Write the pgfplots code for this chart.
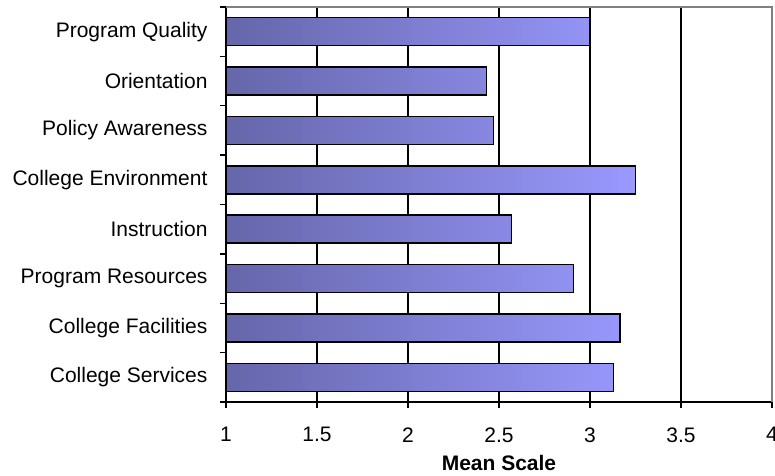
\documentclass[border=0pt]{standalone}
\usepackage{fontspec}
\setmainfont{Liberation Sans}
\usepackage{pgfplots}
\pgfplotsset{compat=1.18}
\definecolor{barL}{RGB}{102,102,170}
\definecolor{barR}{RGB}{153,153,255}
\definecolor{frameGray}{RGB}{128,128,128}
\begin{document}
\begin{tikzpicture}
\begin{axis}[
  scale only axis, width=546bp, height=395bp,
  xmin=1, xmax=4, ymin=-0.5, ymax=7.5,
  x coord trafo/.code={\pgfmathparse{#1-1}},
  x coord inv trafo/.code={\pgfmathparse{#1+1}},
  axis lines*=left,
  axis line style={black, line width=1.3bp},
  xtick={1,1.5,2,2.5,3,3.5,4},
  xticklabels={1,1.5,2,2.5,3,3.5,4},
  xticklabel style={yshift=-16bp},
  ytick={-0.5,0.5,1.5,2.5,3.5,4.5,5.5,6.5,7.5},
  yticklabels={},
  extra y ticks={0,1,2,3,4,5,6,7},
  extra y tick labels={College Services,College Facilities,Program Resources,Instruction,College Environment,Policy Awareness,Orientation,Program Quality},
  extra y tick style={major tick length=0pt, yticklabel style={xshift=-15bp}},
  tick align=outside,
  major tick length=6bp,
  every tick/.style={black, line width=1.3bp},
  xmajorgrids,
  grid style={black, line width=1.3bp},
  ticklabel style={font=\fontsize{21bp}{25bp}\selectfont},
  /pgf/number format/assume math mode=true,
  xlabel={Mean Scale},
  xlabel style={font=\fontsize{21bp}{25bp}\selectfont\bfseries, yshift=-6bp},
  clip=false,
]
\addplot[xbar, bar width=28bp, draw=black, line width=1.5bp,
  left color=barL, right color=barR]
  coordinates {
    (3.13,0) (3.165,1) (2.91,2) (2.57,3) (3.25,4) (2.47,5) (2.43,6) (3.00,7)
  };
\draw[frameGray, line width=1.5bp] (rel axis cs:0,1) -- (rel axis cs:1,1) -- (rel axis cs:1,0);
\coordinate (bl) at (rel axis cs:0,0);
\end{axis}
\pgfresetboundingbox
\path (bl) ++(-226bp,-74bp) rectangle ++(775bp,476bp);
\end{tikzpicture}
\end{document}
